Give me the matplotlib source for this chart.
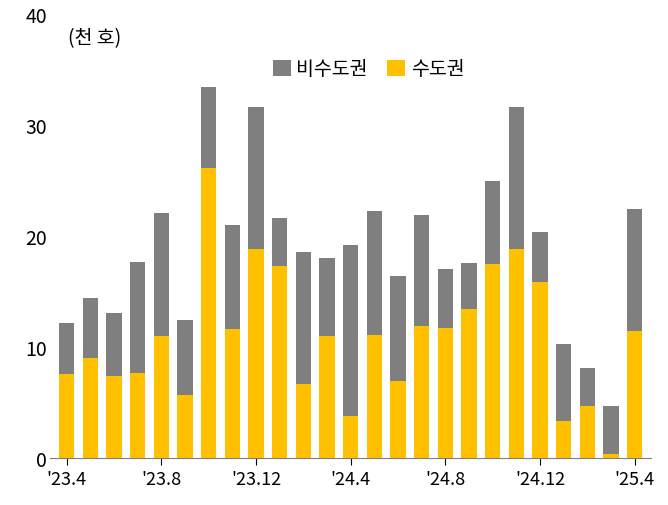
import matplotlib
matplotlib.use("Agg")
import matplotlib.pyplot as plt
import numpy as np

plt.rcParams["font.family"] = ["Noto Sans CJK JP", "Noto Sans CJK KR", "Noto Sans CJK SC", "DejaVu Sans"]

months = ["'23.4","'23.5","'23.6","'23.7","'23.8","'23.9","'23.10","'23.11","'23.12",
          "'24.1","'24.2","'24.3","'24.4","'24.5","'24.6","'24.7","'24.8","'24.9",
          "'24.10","'24.11","'24.12","'25.1","'25.2","'25.3","'25.4"]
total = [12.2,14.4,13.1,17.7,22.1,12.4,33.4,21.0,31.6,21.6,18.6,18.0,19.2,22.3,16.4,
         21.9,17.0,17.6,25.0,31.6,20.4,10.3,8.1,4.7,22.4]
capital = [7.6,9.0,7.4,7.7,11.0,5.7,26.1,11.6,18.8,17.3,6.7,11.0,3.8,11.1,6.9,
           11.9,11.7,13.4,17.5,18.8,15.9,3.3,4.7,0.4,11.4]
noncapital = [t - c for t, c in zip(total, capital)]
tick_labels = ["'23.4","'23.8","'23.12","'24.4","'24.8","'24.12","'25.4"]

fig, ax = plt.subplots(figsize=(6.68, 5.06), dpi=100)
fig.subplots_adjust(left=0.075, right=0.975, top=0.97, bottom=0.093)
x = np.arange(len(months))
ax.bar(x, capital, width=0.65, color="#ffc000", label="수도권")
ax.bar(x, noncapital, bottom=capital, width=0.65, color="#7f7f7f", label="비수도권")
ax.set_ylim(0, 40)
ax.set_xlim(-0.7, len(months) - 0.3)
ax.set_yticks([0, 10, 20, 30, 40])
ax.set_xticks(x[::4])
ax.set_xticklabels(tick_labels)
ax.tick_params(axis="y", length=0, labelsize=14, pad=2)
ax.tick_params(axis="x", length=5, labelsize=13, direction="out")
for s in ["left", "right", "top"]:
    ax.spines[s].set_visible(False)
ax.spines["bottom"].set_color("#7f7f7f")
ax.text(0.03, 0.97, "(천 호)", transform=ax.transAxes, fontsize=14, va="top")
h, l = ax.get_legend_handles_labels()
ax.legend(h[::-1], l[::-1], loc="upper center", bbox_to_anchor=(0.53, 0.94), ncol=2,
          frameon=False, fontsize=14, handlelength=0.9, handleheight=0.9, columnspacing=1.0,
          handletextpad=0.3)
fig.savefig("out.png")
